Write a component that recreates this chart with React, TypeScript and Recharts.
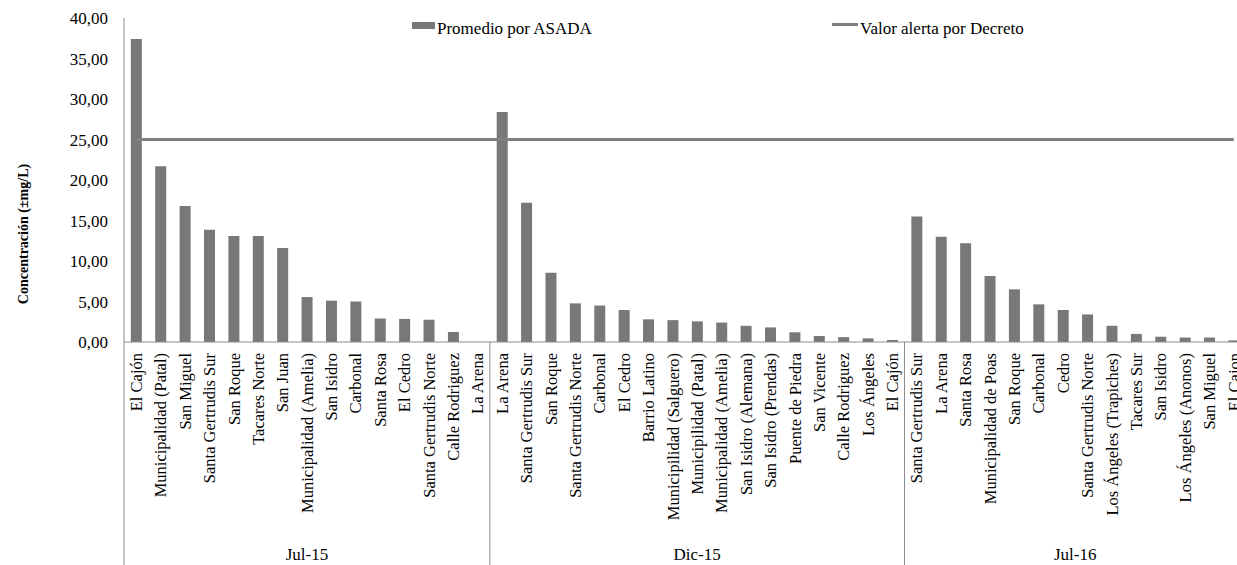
import React from 'react';
import { ComposedChart, Bar, XAxis, YAxis, ReferenceLine, Legend } from 'recharts';

const FONT = 'Liberation Serif';
const BAR_COLOR = '#787878';
const LINE_COLOR = '#808080';
const AXIS_COLOR = '#8c8c8c';

// Datos por campaña de muestreo
const groupLabels = ['Jul-15', 'Dic-15', 'Jul-16'];

const jul15Names = [
  'El Cajón', 'Municipalidad (Patal)', 'San Miguel', 'Santa Gertrudis Sur', 'San Roque',
  'Tacares Norte', 'San Juan', 'Municipalidad (Amelia)', 'San Isidro', 'Carbonal',
  'Santa Rosa', 'El Cedro', 'Santa Gertrudis Norte', 'Calle Rodriguez', 'La Arena',
];
const jul15Values = [37.4, 21.7, 16.8, 13.85, 13.1, 13.1, 11.6, 5.55, 5.1, 5.0, 2.9, 2.85, 2.75, 1.23, 0];

const dic15Names = [
  'La Arena', 'Santa Gertrudis Sur', 'San Roque', 'Santa Gertrudis Norte', 'Carbonal',
  'El Cedro', 'Barrio Latino', 'Municipilidad (Salguero)', 'Municipilidad (Patal)',
  'Municipalidad (Amelia)', 'San Isidro (Alemana)', 'San Isidro (Prendas)', 'Puente de Piedra',
  'San Vicente', 'Calle Rodriguez', 'Los Ángeles', 'El Cajón',
];
const dic15Values = [28.4, 17.2, 8.55, 4.77, 4.5, 3.95, 2.8, 2.7, 2.55, 2.4, 2.0, 1.8, 1.2, 0.74, 0.6, 0.45, 0.25];

const jul16Names = [
  'Santa Gertrudis Sur', 'La Arena', 'Santa Rosa', 'Municipalidad de Poas', 'San Roque',
  'Carbonal', 'Cedro', 'Santa Gertrudis Norte', 'Los Ángeles (Trapiches)', 'Tacares Sur',
  'San Isidro', 'Los Ángeles (Anonos)', 'San Miguel', 'El Cajon',
];
const jul16Values = [15.5, 13.0, 12.2, 8.15, 6.5, 4.65, 3.95, 3.4, 2.0, 1.0, 0.65, 0.55, 0.55, 0.2];

const alertValue = 25;
const yTicks = [0, 5, 10, 15, 20, 25, 30, 35, 40];

const groupNames = [jul15Names, dic15Names, jul16Names];
const groupValues = [jul15Values, dic15Values, jul16Values];

const rows = groupNames.flatMap((names, g) =>
  names.map((name, i) => ({
    id: `${groupLabels[g]}|${name}`,
    name,
    value: groupValues[g][i],
    group: groupLabels[g],
    first: i === 0,
    size: names.length,
  }))
);

// layout
const CHART_W = 1262;
const CHART_H = 565;
const Y_AXIS_W = 124;
const MARGIN = { top: 18, right: 16, left: 0, bottom: 0 };
const X_AXIS_H = 223;
const STEP = (CHART_W - Y_AXIS_W - MARGIN.left - MARGIN.right) / rows.length;

const fmt = (v: number) => v.toFixed(2).replace('.', ',');

const CategoryTick = (props: any) => {
  const { x, y, payload } = props;
  const row = rows.find((r) => r.id === payload.value);
  if (!row) return null;
  const left = x - STEP / 2;
  return (
    <g>
      {row.first && (
        <line x1={left} x2={left} y1={y} y2={y + X_AXIS_H} stroke={AXIS_COLOR} strokeWidth={1} />
      )}
      <text
        x={x}
        y={y + 11}
        transform={`rotate(-90 ${x} ${y + 11})`}
        textAnchor="end"
        dy="0.35em"
        fill="#000"
        fontFamily={FONT}
        fontSize={16.5}
      >
        {row.name}
      </text>
      {row.first && (
        <text
          x={x + ((row.size - 1) / 2) * STEP}
          y={y + 218}
          textAnchor="middle"
          fill="#000"
          fontFamily={FONT}
          fontSize={17}
        >
          {row.group}
        </text>
      )}
    </g>
  );
};

const YTitle = () => (
  <text
    x={23}
    y={234}
    transform="rotate(-90 23 234)"
    textAnchor="middle"
    dominantBaseline="central"
    fontFamily={FONT}
    fontWeight="bold"
    fontSize={14}
    fill="#000"
  >
    Concentración (±mg/L)
  </text>
);

const LegendContent = () => (
  <div style={{ position: 'relative', width: 700, height: 22, fontFamily: FONT, fontSize: 17, lineHeight: '20px', color: '#000' }}>
    <span style={{ position: 'absolute', left: 1, top: 3, width: 23, height: 7, background: BAR_COLOR }} />
    <span style={{ position: 'absolute', left: 26, top: 0, whiteSpace: 'nowrap' }}>Promedio por ASADA</span>
    <span style={{ position: 'absolute', left: 421, top: 4, width: 26, height: 3, background: LINE_COLOR }} />
    <span style={{ position: 'absolute', left: 449, top: 0, whiteSpace: 'nowrap' }}>Valor alerta por Decreto</span>
  </div>
);

export default function App() {
  return (
    <div style={{ position: 'absolute', left: 0, top: 0, width: 1237, height: 565, overflow: 'hidden', background: '#fff', fontFamily: FONT }}>
      <ComposedChart width={CHART_W} height={CHART_H} data={rows} margin={MARGIN} barCategoryGap="28%">
        <XAxis
          dataKey="id"
          type="category"
          interval={0}
          height={X_AXIS_H}
          tickLine={false}
          tickSize={0}
          tickMargin={0}
          axisLine={{ stroke: AXIS_COLOR }}
          tick={<CategoryTick />}
        />
        <YAxis
          width={Y_AXIS_W}
          domain={[0, 40]}
          ticks={yTicks}
          tickFormatter={fmt}
          tickLine={false}
          tickSize={6}
          tickMargin={10}
          axisLine={{ stroke: AXIS_COLOR }}
          tick={{ fill: '#000', fontFamily: FONT, fontSize: 17 }}
          label={<YTitle />}
        />
        <Legend
          layout="horizontal"
          verticalAlign="middle"
          align="center"
          wrapperStyle={{ top: 19, left: 411, width: 700 }}
          content={<LegendContent />}
        />
        <Bar dataKey="value" name="Promedio por ASADA" fill={BAR_COLOR} isAnimationActive={false} />
        <ReferenceLine
          segment={[
            { x: rows[0].id, y: alertValue },
            { x: rows[rows.length - 1].id, y: alertValue },
          ]}
          stroke={LINE_COLOR}
          strokeWidth={3}
          ifOverflow="visible"
        />
      </ComposedChart>
    </div>
  );
}
